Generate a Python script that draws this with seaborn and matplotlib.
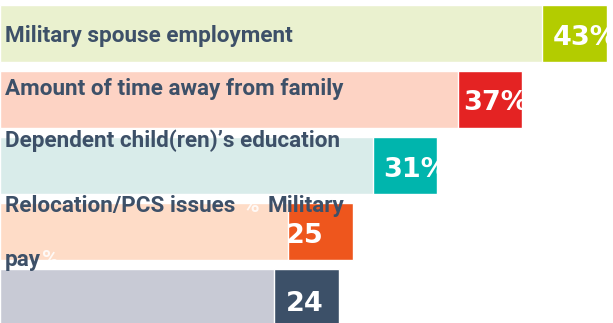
import matplotlib
matplotlib.use("Agg")
import matplotlib.pyplot as plt
import seaborn as sns
import pandas as pd

# ---- data ----
categories = ["Military spouse employment", "Amount of time away from family",
              "Dependent child(ren)’s education", "Relocation/PCS issues", "Military pay"]
values = [43, 37, 31, 25, 24]
value_labels = ["43%", "37%", "31%", "25", "24"]

# ---- styles ----
dark_colors = ["#B3CC00", "#E42323", "#00B5AD", "#EE561D", "#3C5068"]
light_colors = ["#EAF1CF", "#FDD3C4", "#D9ECEA", "#FEDCC7", "#C8CAD5"]
box_w = 4.55
text_color = "#3D5068"
font = "Roboto"

sns.set_style("white")
plt.rcParams["font.family"] = [font, "DejaVu Sans"]

W, H = 613, 323
fig = plt.figure(figsize=(W / 100, H / 100), dpi=100)
ax = fig.add_axes([0, 0, 1, 1])

df = pd.DataFrame({"cat": categories, "val": values,
                   "light": [v - box_w for v in values]})

sns.barplot(data=df, x="val", y="cat", hue="cat", palette=dark_colors,
            orient="h", width=0.87, saturation=1, legend=False, ax=ax)
sns.barplot(data=df, x="light", y="cat", hue="cat", palette=light_colors,
            orient="h", width=0.87, saturation=1, legend=False, ax=ax)

ax.set_xlim(0, W / 14.107)
ax.set_ylim(4.386, -0.508)
ax.axis("off")

dark_patches = ax.patches[:5]

# category label pieces: (text, x px, baseline y px from top, color, alpha)
label_pieces = [
    ("Military spouse employment", 5, 42, text_color, 1),
    ("Amount of time away from family", 5, 95, text_color, 1),
    ("Dependent child(ren)’s education", 5, 147, text_color, 1),
    ("Relocation/PCS issues", 5, 212, text_color, 1),
    ("%", 243, 212, "white", 0.85),
    ("Military", 268, 212, text_color, 1),
    ("pay", 5, 266, text_color, 1),
    ("%", 42, 266, "white", 0.85),
]
for txt, x, y, c, a in label_pieces:
    ax.annotate(txt, xy=(x, H - y), xycoords="figure pixels", ha="left",
                va="baseline", fontsize=16.2, fontweight="bold", color=c,
                alpha=a, annotation_clip=False)

# value labels
val_pos = [(553, 45), (463, 110), (383, 177), (286, 243), (286, 311)]
for lab, (x, y), p in zip(value_labels, val_pos, dark_patches):
    t = ax.annotate(lab, xy=(x, H - y), xycoords="figure pixels", ha="left",
                    va="baseline", fontsize=19.5, fontweight="bold",
                    family="DejaVu Sans", color="white", annotation_clip=False)
    t.set_clip_on(True)
    t.set_clip_path(p)

fig.savefig("out.png", dpi=100)
